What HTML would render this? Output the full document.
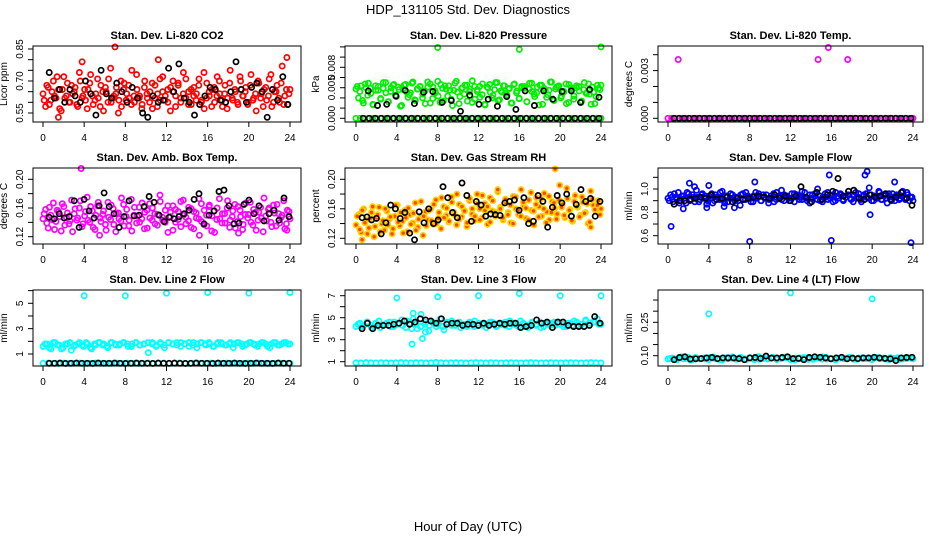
<!DOCTYPE html>
<html><head><meta charset="utf-8"><style>
html,body{margin:0;padding:0;background:#fff;}
svg{display:block;font-family:"Liberation Sans",sans-serif;}
</style></head><body>
<svg id="chart" width="936" height="540" viewBox="0 0 936 540">
<text x="468" y="14" font-size="13" text-anchor="middle">HDP_131105  Std. Dev. Diagnostics</text>
<text x="468" y="531" font-size="13" text-anchor="middle">Hour of Day (UTC)</text>
</svg>
<script>
// ---- data ----
const xTicks = [0,4,8,12,16,20,24];
const co2Main = [0.64,0.58,0.67,0.61,0.70,0.62,0.66,0.56,0.72,0.63,0.60,0.68,0.65,0.59,0.74,0.62,0.66,0.57,0.69,0.63,0.61,0.71,0.58,0.65,0.67,0.60,0.76,0.62,0.64,0.55,0.70,0.66,0.61,0.68,0.59,0.63,0.73,0.62,0.57,0.67,0.64,0.60,0.69,0.62,0.58,0.71,0.65,0.61,0.66,0.56,0.70,0.63,0.68,0.60,0.74,0.62,0.65,0.59,0.67,0.64,0.71,0.61,0.57,0.69,0.63,0.66,0.60,0.72,0.64,0.58,0.68,0.62,0.75,0.61,0.65,0.59,0.70,0.63,0.67,0.60,0.73,0.62,0.56,0.69,0.64,0.66,0.61,0.71,0.58,0.65,0.68,0.60,0.77,0.63,0.59,0.66];
const co2Main2 = [0.61,0.68,0.59,0.65,0.63,0.72,0.57,0.66,0.62,0.69,0.60,0.64,0.67,0.58,0.70,0.63,0.61,0.66,0.73,0.59,0.64,0.62,0.68,0.56,0.65,0.71,0.60,0.63,0.67,0.61,0.58,0.69,0.64,0.62,0.75,0.60,0.66,0.63,0.59,0.70,0.62,0.65,0.57,0.68,0.64,0.61,0.72,0.63,0.60,0.67,0.65,0.58,0.69,0.62,0.64,0.71,0.59,0.66,0.63,0.61,0.68,0.60,0.74,0.62,0.65,0.58,0.67,0.63,0.70,0.61,0.64,0.57,0.69,0.62,0.66,0.60,0.72,0.63,0.65,0.59,0.68,0.61,0.64,0.70,0.62,0.58,0.67,0.63,0.73,0.60,0.65,0.62,0.69,0.59,0.66,0.64];
const co2Black = [0.74,0.62,0.66,0.60,0.66,0.63,0.60,0.70,0.64,0.54,0.75,0.64,0.62,0.69,0.65,0.60,0.67,0.62,0.55,0.53,0.63,0.60,0.61,0.76,0.65,0.78,0.62,0.60,0.54,0.59,0.63,0.67,0.66,0.61,0.60,0.65,0.79,0.66,0.60,0.67,0.69,0.65,0.53,0.66,0.61,0.72,0.59];
const co2OutHours = [1.5,3.8,7.0,11.2,23.7];
const co2OutVals = [0.53,0.79,0.86,0.80,0.81];
// pressure in Pa (1 Pa = 0.001 kPa)
const presMain = [4.6,3.2,5.1,2.4,4.8,5.5,3.9,2.1,4.4,5.0,3.0,4.7,5.6,2.6,4.2,5.2,3.6,4.9,1.9,4.5,5.3,3.3,4.0,5.7,2.8,4.6,5.0,3.8,2.3,4.9,5.4,3.1,4.3,5.8,2.5,4.7,5.1,3.5,4.4,2.0,5.5,4.1,3.4,4.8,5.2,2.7,4.6,5.9,3.0,4.2,5.0,3.7,2.2,4.9,5.3,3.2,4.5,5.6,2.9,4.1,5.1,3.6,4.7,2.4,5.4,4.3,3.1,4.8,5.0,2.6,4.6,5.5,3.8,4.0,2.1,5.2,4.7,3.3,4.4,5.7,2.8,4.9,5.1,3.5,4.2,2.3,5.3,4.6,3.0,4.8,5.0,2.5,4.5,3.9,5.4,2.2,4.1,3.4,4.7,5.2];
const presMain2 = [5.0,4.2,2.8,5.4,3.6,4.7,2.2,5.1,4.4,3.1,5.6,4.0,2.6,4.8,5.3,3.4,4.5,2.0,5.2,4.1,3.7,5.5,2.9,4.6,5.0,3.2,4.3,5.7,2.4,4.9,4.0,3.5,5.3,2.7,4.6,5.1,3.0,4.4,5.8,2.3,4.7,3.8,5.2,4.2,2.5,5.0,4.5,3.3,5.4,2.1,4.8,4.1,3.6,5.6,2.8,4.3,5.1,3.9,4.6,2.4,5.3,4.0,3.1,5.0,4.7,2.6,5.5,4.2,3.4,4.9,5.2,2.2,4.4,3.7,5.7,2.9,4.6,5.0,3.2,4.1,5.4,2.5,4.8,3.5,5.1,4.3,2.7,5.6,4.0,3.8,4.9,2.3,5.2,4.5];
const presZero = [0,0,0,0,0,0,0,0,0,0,0,0,0,0,0,0,0,0,0,0,0,0,0,0,0,0,0,0,0,0,0,0,0,0,0,0,0,0,0,0,0,0,0,0,0,0,0,0,0,0,0,0,0,0,0,0,0,0,0,0];
const presBlack = [4.3,2.0,2.2,3.5,4.4,2.3,4.1,4.2,2.5,2.8,1.1,3.6,2.2,3.0,1.9,3.4,1.4,4.3,2.0,4.3,3.0,4.2,4.3,2.5,4.5,3.3];
const presBlackZero = [0,0,0,0,0,0,0,0,0,0,0,0,0,0,0,0,0,0,0,0,0,0,0,0,0,0,0,0,0,0,0,0,0,0,0,0,0,0,0,0];
const presOutHours = [8,16,24];
const presOutVals = [11.1,10.8,11.2];
// temperature in mK
const tempZero = [0,0,0,0,0,0,0,0,0,0,0,0,0,0,0,0,0,0,0,0,0,0,0,0,0,0,0,0,0,0,0,0,0,0,0,0,0,0,0,0,0,0,0,0,0,0,0,0,0,0,0,0,0,0,0,0,0,0,0,0,0,0,0,0,0,0,0,0,0,0];
const tempBlackZero = [0,0,0,0,0,0,0,0,0,0,0,0,0,0,0,0,0,0,0,0,0,0,0,0,0,0,0,0,0,0,0,0,0,0,0,0,0,0,0,0,0,0,0,0,0,0,0,0];
const tempOutHours = [1.0,14.7,15.7,17.6];
const tempOutVals = [3.7,3.7,4.45,3.7];
const ambMain = [0.145,0.158,0.132,0.150,0.167,0.141,0.155,0.128,0.162,0.147,0.138,0.171,0.152,0.143,0.160,0.134,0.149,0.175,0.140,0.156,0.130,0.163,0.146,0.151,0.137,0.168,0.144,0.159,0.127,0.153,0.142,0.165,0.148,0.135,0.172,0.150,0.139,0.161,0.145,0.131,0.157,0.166,0.143,0.152,0.136,0.178,0.147,0.140,0.163,0.154,0.129,0.158,0.144,0.169,0.150,0.138,0.161,0.133,0.155,0.146,0.173,0.141,0.157,0.135,0.164,0.149,0.126,0.160,0.145,0.152,0.139,0.170,0.143,0.156,0.132,0.162,0.148,0.137,0.167,0.151,0.140,0.158,0.129,0.154,0.146,0.174,0.142,0.160,0.134,0.153,0.165,0.139,0.150,0.131,0.157,0.145];
const ambMain2 = [0.152,0.139,0.161,0.144,0.130,0.157,0.148,0.166,0.136,0.153,0.142,0.127,0.159,0.146,0.170,0.138,0.155,0.143,0.162,0.133,0.150,0.168,0.141,0.156,0.129,0.147,0.164,0.137,0.152,0.145,0.174,0.135,0.158,0.143,0.128,0.161,0.149,0.140,0.167,0.154,0.132,0.146,0.160,0.138,0.151,0.169,0.143,0.157,0.126,0.148,0.163,0.140,0.155,0.134,0.171,0.147,0.142,0.159,0.131,0.153,0.145,0.166,0.137,0.150,0.162,0.128,0.156,0.144,0.173,0.139,0.152,0.160,0.133,0.148,0.165,0.141,0.157,0.130,0.151,0.146,0.168,0.136,0.154,0.143,0.161,0.127,0.149,0.158,0.140,0.164,0.135,0.152,0.147,0.170,0.138,0.155];
const ambBlack = [0.147,0.145,0.152,0.146,0.148,0.170,0.133,0.172,0.156,0.146,0.163,0.181,0.162,0.152,0.133,0.148,0.170,0.149,0.150,0.162,0.176,0.168,0.150,0.141,0.147,0.145,0.148,0.152,0.157,0.172,0.180,0.138,0.150,0.156,0.183,0.185,0.163,0.138,0.139,0.165,0.171,0.152,0.163,0.142,0.152,0.157,0.143,0.174,0.148];
const ambOutHours = [3.7,5.5,15.2,19.0,23.7];
const ambOutVals = [0.215,0.122,0.122,0.125,0.129];
const rhMain = [0.138,0.152,0.128,0.160,0.145,0.134,0.155,0.122,0.148,0.162,0.140,0.131,0.157,0.146,0.126,0.150,0.165,0.137,0.143,0.158,0.129,0.152,0.141,0.168,0.135,0.149,0.124,0.156,0.145,0.160,0.139,0.172,0.147,0.133,0.163,0.151,0.142,0.176,0.155,0.138,0.166,0.149,0.158,0.136,0.171,0.153,0.144,0.180,0.160,0.148,0.167,0.139,0.175,0.157,0.150,0.183,0.162,0.145,0.169,0.155,0.141,0.177,0.160,0.152,0.186,0.164,0.147,0.172,0.158,0.138,0.175,0.163,0.150,0.181,0.156,0.145,0.170,0.161,0.153,0.192,0.166,0.148,0.174,0.159,0.143,0.178,0.162,0.151,0.169,0.155,0.140,0.184,0.165,0.157,0.171,0.160];
const rhMain2 = [0.150,0.132,0.158,0.141,0.126,0.147,0.163,0.136,0.152,0.129,0.144,0.160,0.138,0.149,0.133,0.165,0.142,0.155,0.127,0.148,0.161,0.139,0.154,0.131,0.146,0.170,0.150,0.137,0.158,0.144,0.166,0.140,0.155,0.175,0.148,0.161,0.143,0.169,0.152,0.180,0.146,0.163,0.157,0.141,0.174,0.160,0.150,0.167,0.145,0.178,0.158,0.163,0.142,0.171,0.155,0.186,0.160,0.148,0.173,0.152,0.165,0.140,0.176,0.158,0.150,0.169,0.161,0.145,0.182,0.157,0.166,0.149,0.174,0.160,0.141,0.177,0.155,0.168,0.146,0.172,0.162,0.151,0.188,0.158,0.144,0.170,0.163,0.149,0.176,0.154,0.167,0.142,0.173,0.159,0.165,0.152];
const rhBlack = [0.148,0.149,0.145,0.147,0.126,0.141,0.165,0.160,0.147,0.155,0.127,0.118,0.156,0.141,0.160,0.140,0.145,0.190,0.175,0.155,0.148,0.195,0.178,0.143,0.170,0.165,0.150,0.153,0.152,0.151,0.168,0.170,0.172,0.158,0.175,0.140,0.143,0.178,0.170,0.135,0.162,0.178,0.168,0.180,0.150,0.166,0.186,0.170,0.174,0.150,0.170];
const rhOutHours = [0.6,19.5,23.0];
const rhOutVals = [0.118,0.214,0.135];
const flowMain = [0.92,0.95,0.89,0.93,0.97,0.90,0.94,0.88,0.96,0.91,0.93,0.99,0.89,0.95,0.92,0.87,0.94,0.96,0.90,0.93,0.91,0.98,0.88,0.94,0.92,0.95,0.90,0.93,0.86,0.96,0.91,0.94,0.92,0.89,0.97,0.93,0.90,0.95,0.92,0.88,0.94,0.96,0.91,0.93,0.99,0.90,0.94,0.92,0.96,0.89,0.95,0.93,0.91,0.97,0.92,0.88,0.95,0.94,1.00,0.90,0.93,0.96,0.91,0.94,0.89,0.97,0.92,0.95,0.90,0.93,0.98,0.91,0.94,0.92,0.96,0.89,0.95,0.93,1.01,0.90,0.94,0.92,0.97,0.91,0.95,0.88,0.93,0.96,0.90,0.94,0.92,0.98,0.91,0.95,0.93,0.90];
const flowMain2 = [0.90,0.93,0.96,0.91,0.88,0.94,0.92,0.97,0.90,0.95,0.89,0.93,0.91,0.96,0.94,0.90,0.92,0.88,0.95,0.93,0.97,0.91,0.94,0.89,0.96,0.92,0.93,0.90,0.95,0.91,0.97,0.93,0.89,0.94,0.92,0.96,0.90,0.93,0.95,0.91,0.92,0.89,0.97,0.94,0.91,0.95,0.93,0.90,0.92,0.96,0.94,0.91,0.98,0.93,0.90,0.95,0.92,0.96,0.91,0.94,0.89,0.93,0.97,0.92,0.95,0.90,0.94,0.96,0.91,0.93,0.95,0.92,0.89,0.97,0.93,0.91,0.94,0.96,0.92,0.95,0.90,0.93,0.98,0.91,0.94,0.92,0.96,0.90,0.93,0.95,0.91,0.94,0.92,0.97,0.90,0.93];
const flowBlack = [0.87,0.90,0.90,0.91,0.92,0.93,0.92,0.95,0.91,0.92,0.93,0.89,0.92,0.91,0.92,0.93,0.94,0.93,0.92,0.95,0.92,0.94,0.90,0.94,1.02,0.93,0.89,0.97,0.91,0.95,0.98,1.09,0.94,0.98,0.99,0.92,0.91,0.95,0.93,0.94,0.96,0.91,0.93,0.97,0.92,0.86];
const flowOutHours = [0.3,2.1,2.6,4.0,8.0,8.5,16.0,19.3,19.5,23.8,3.8,5.5,6.5,1.5,22.2,15.8,19.8];
const flowOutVals = [0.68,1.05,1.02,1.03,0.55,1.06,0.56,1.12,1.15,0.54,0.84,0.85,0.84,0.83,1.06,1.12,0.78];
const l2Main = [1.6,1.8,1.4,1.9,1.7,1.5,1.8,1.3,1.7,1.9,1.6,1.8,1.4,1.7,1.9,1.8,1.5,1.9,1.7,1.8,1.9,1.6,1.8,1.9,1.7,1.8,1.1,1.9,1.7,1.8,1.5,1.9,1.8,1.9,1.6,1.8,1.9,1.7,1.5,1.9,1.8,1.9,1.6,1.8,1.9,1.7,1.8,1.5,1.9,1.8,1.7,1.9,1.8,1.6,1.9,1.8,1.5,1.9,1.7,1.8,1.9,1.8];
const l2Main2 = [1.8,1.5,1.9,1.7,1.4,1.8,1.9,1.6,1.8,1.7,1.9,1.5,1.8,1.9,1.7,1.6,1.9,1.8,1.7,1.9,1.8,1.6,1.9,1.7,1.8,1.9,1.8,1.6,1.9,1.7,1.9,1.8,1.7,1.9,1.8,1.6,1.9,1.8,1.9,1.7,1.8,1.6,1.9,1.8,1.7,1.9,1.8,1.9,1.6,1.8,1.9,1.7,1.8,1.9,1.6,1.8,1.9,1.7,1.9,1.8];
const l2Low = [0.27,0.28,0.27,0.26,0.28,0.27,0.27,0.28,0.26,0.27,0.28,0.27,0.27,0.26,0.28,0.27,0.28,0.27,0.26,0.27,0.28,0.27,0.27,0.28,0.26,0.27,0.28,0.27,0.26,0.28,0.27,0.27,0.28,0.26,0.27,0.28,0.27,0.27,0.26,0.28,0.27,0.28,0.27,0.26,0.27,0.28,0.27,0.27];
const l2Black = [0.27,0.27,0.28,0.26,0.27,0.28,0.27,0.27,0.26,0.28,0.27,0.27,0.28,0.27,0.26,0.27,0.28,0.27,0.27,0.26,0.28,0.27,0.27,0.28,0.27,0.26,0.27,0.28,0.27,0.27,0.26,0.28,0.27,0.27,0.28,0.27,0.26,0.27,0.28,0.27,0.27,0.26,0.28,0.27,0.27];
const l2OutHours = [4,8,12,16,20,24];
const l2OutVals = [5.6,5.6,5.8,5.85,5.8,5.85];
const l3Main = [4.2,4.5,4.3,4.6,4.1,4.4,4.7,4.3,4.5,4.2,4.6,4.4,4.8,4.1,4.5,4.9,4.0,5.3,4.4,3.8,4.6,4.2,4.9,3.9,4.5,4.7,4.3,4.6,4.4,4.2,4.5,4.7,4.3,4.4,4.1,4.6,4.5,4.3,4.4,4.6,4.2,4.5,4.3,4.7,4.4,4.1,4.5,4.3,4.6,4.2,4.4,4.5,4.3,4.6,4.4,4.2,4.5,4.7,4.3,4.4,4.8,4.5,4.6,4.9,4.4];
const l3Main2 = [4.4,4.2,4.6,4.3,4.5,4.1,4.4,4.6,4.2,4.5,4.3,4.7,4.0,4.4,4.2,4.6,4.3,4.5,4.4,4.2,4.6,4.3,4.5,4.1,4.4,4.6,4.2,4.5,4.3,4.4,4.6,4.2,4.5,4.3,4.7,4.4,4.2,4.5,4.3,4.6,4.4,4.1,4.5,4.3,4.6,4.4,4.2,4.5,4.3,4.6,4.4,4.7,4.5,4.6,4.4];
const l3Low = [0.9,0.88,0.92,0.9,0.89,0.91,0.9,0.88,0.9,0.92,0.9,0.89,0.91,0.9,0.88,0.9,0.93,0.9,0.89,0.9,0.91,0.9,0.88,0.9,0.92,0.9,0.89,0.91,0.9,0.88,0.9,0.91,0.9,0.89,0.9,0.92,0.9,0.88,0.9,0.91,0.9,0.89,0.9,0.91,0.9,0.88,0.9,0.92,0.9,0.89];
const l3Black = [4.0,4.5,4.0,4.3,4.3,4.3,4.4,4.5,4.7,4.4,4.6,4.9,4.8,4.7,4.5,4.9,4.4,4.5,4.5,4.3,4.4,4.4,4.3,4.5,4.3,4.4,4.5,4.4,4.5,4.5,4.1,4.2,4.3,4.8,4.5,4.6,4.1,4.6,4.6,4.3,4.2,4.2,4.2,4.3,5.1,4.5];
const l3OutHours = [4,8,12,16,20,24,5.5,5.6,6.5,6.8];
const l3OutVals = [6.8,6.9,7.0,7.2,7.0,7.0,2.6,5.4,3.1,3.7];
const l4Main = [0.085,0.09,0.082,0.095,0.088,0.08,0.092,0.086,0.09,0.083,0.094,0.087,0.081,0.091,0.089,0.084,0.093,0.086,0.09,0.082,0.096,0.088,0.085,0.091,0.083,0.089,0.094,0.086,0.081,0.09,0.087,0.092,0.084,0.089,0.095,0.085,0.088,0.082,0.091,0.087,0.093,0.084,0.089,0.086,0.09,0.083,0.092,0.088,0.085,0.091,0.087,0.084,0.089,0.09,0.086];
const l4Main2 = [0.088,0.084,0.091,0.086,0.093,0.082,0.089,0.087,0.085,0.092,0.088,0.083,0.09,0.086,0.094,0.085,0.089,0.082,0.091,0.087,0.084,0.09,0.088,0.093,0.085,0.087,0.091,0.083,0.089,0.086,0.092,0.084,0.088,0.09,0.085,0.093,0.087,0.083,0.089,0.086,0.091,0.088,0.084,0.09,0.087,0.085,0.092,0.086,0.089,0.083,0.088,0.091,0.085,0.087,0.09];
const l4Black = [0.082,0.092,0.095,0.085,0.086,0.087,0.09,0.092,0.087,0.09,0.09,0.09,0.087,0.082,0.09,0.092,0.088,0.098,0.089,0.09,0.092,0.095,0.087,0.088,0.082,0.092,0.095,0.093,0.09,0.086,0.09,0.093,0.086,0.089,0.087,0.09,0.09,0.093,0.09,0.088,0.086,0.078,0.09,0.092,0.093];
const l4OutHours = [4.0,12.0,20.0];
const l4OutVals = [0.288,0.382,0.355];

// ---- layout ----
const NS='http://www.w3.org/2000/svg';
const svg=document.getElementById('chart');
function mk(tag,attrs,parent){const e=document.createElementNS(NS,tag);for(const k in attrs)e.setAttribute(k,attrs[k]);(parent||svg).appendChild(e);return e;}
const cols=[{l:33,r:301,x0:43,x24:290},{l:345,r:612,x0:356,x24:601},{l:658,r:923,x0:668,x24:913}];
const rows=[{t:46,b:122},{t:168,b:244},{t:290,b:366}];
const GOLD='#ffd000';
const panels=[
 {name:'co2',title:'Stan. Dev. Li-820 CO2',ylab:'Licor ppm',c:0,r:0,v1:0.55,y1:113,v2:0.85,y2:49,ticks:[0.55,0.60,0.65,0.70,0.75,0.80,0.85],labels:[[0.55,'0.55'],[0.70,'0.70'],[0.85,'0.85']],
  series:[{v:co2Main,col:'#ff0000',t0:0,t1:24},{v:co2Main2,col:'#ff0000',t0:0.12,t1:23.9},{h:co2OutHours,v:co2OutVals,col:'#ff0000'},{v:co2Black,col:'#000',t0:0.6,t1:23.8}]},
 {name:'pressure',title:'Stan. Dev. Li-820 Pressure',ylab:'kPa',c:1,r:0,v1:0,y1:118.3,v2:8,y2:67.3,ticks:[0,1.6,3.2,4.8,6.4,8,9.6,11.2],labels:[[0,'0.000'],[4.8,'0.005'],[8,'0.008']],
  series:[{v:presZero,col:'#00ee00',t0:0,t1:24},{v:presMain,col:'#00ee00',t0:0,t1:24},{v:presMain2,col:'#00ee00',t0:0.12,t1:23.9},{h:presOutHours,v:presOutVals,col:'#00ee00'},{v:presBlackZero,col:'#000',t0:0.7,t1:23.8},{v:presBlack,col:'#000',t0:1.2,t1:23.8}]},
 {name:'temp',title:'Stan. Dev. Li-820 Temp.',ylab:'degrees C',c:2,r:0,v1:0,y1:118.3,v2:3,y2:70.6,ticks:[0,1,2,3,4],labels:[[0,'0.000'],[3,'0.003']],
  series:[{v:tempZero,col:'#ff00ff',t0:0,t1:24},{h:tempOutHours,v:tempOutVals,col:'#ff00ff'},{v:tempBlackZero,col:'#000',t0:0.6,t1:23.8}]},
 {name:'amb-box',title:'Stan. Dev. Amb. Box Temp.',ylab:'degrees C',c:0,r:1,v1:0.12,y1:236.7,v2:0.20,y2:179.3,ticks:[0.12,0.14,0.16,0.18,0.20],labels:[[0.12,'0.12'],[0.16,'0.16'],[0.20,'0.20']],
  series:[{v:ambMain,col:'#ff00ff',t0:0,t1:24},{v:ambMain2,col:'#ff00ff',t0:0.12,t1:23.9},{h:ambOutHours,v:ambOutVals,col:'#ff00ff'},{v:ambBlack,col:'#000',t0:0.6,t1:23.9}]},
 {name:'gas-rh',title:'Stan. Dev. Gas Stream RH',ylab:'percent',c:1,r:1,v1:0.12,y1:238.3,v2:0.20,y2:179.3,ticks:[0.12,0.14,0.16,0.18,0.20],labels:[[0.12,'0.12'],[0.16,'0.16'],[0.20,'0.20']],
  series:[{v:rhMain,col:GOLD,fill:'#ff4400',t0:0,t1:24},{v:rhMain2,col:GOLD,fill:'#ff4400',t0:0.12,t1:23.9},{h:rhOutHours,v:rhOutVals,col:GOLD,fill:'#ff4400'},{v:rhBlack,col:'#000',t0:0.6,t1:23.9}]},
 {name:'sample-flow',title:'Stan. Dev. Sample Flow',ylab:'ml/min',c:2,r:1,v1:0.6,y1:235.7,v2:1.0,y2:189,ticks:[0.6,0.7,0.8,0.9,1.0,1.1],labels:[[0.6,'0.6'],[0.8,'0.8'],[1.0,'1.0']],
  series:[{v:flowMain,col:'#0000ff',t0:0,t1:24},{v:flowMain2,col:'#0000ff',t0:0.12,t1:23.9},{h:flowOutHours,v:flowOutVals,col:'#0000ff'},{v:flowBlack,col:'#000',t0:0.6,t1:23.9}]},
 {name:'line2-flow',title:'Stan. Dev. Line 2 Flow',ylab:'ml/min',c:0,r:2,v1:1,y1:354,v2:5,y2:303.3,ticks:[1,2,3,4,5,6],labels:[[1,'1'],[3,'3'],[5,'5']],
  series:[{v:l2Main,col:'#00ffff',t0:0,t1:24},{v:l2Main2,col:'#00ffff',t0:0.2,t1:23.8},{v:l2Low,col:'#00ffff',t0:0,t1:24},{h:l2OutHours,v:l2OutVals,col:'#00ffff'},{v:l2Black,col:'#000',t0:0.6,t1:23.9}]},
 {name:'line3-flow',title:'Stan. Dev. Line 3 Flow',ylab:'ml/min',c:1,r:2,v1:1,y1:361.7,v2:7,y2:295.7,ticks:[1,2,3,4,5,6,7],labels:[[1,'1'],[3,'3'],[5,'5'],[7,'7']],
  series:[{v:l3Main,col:'#00ffff',t0:0,t1:24},{v:l3Main2,col:'#00ffff',t0:0.2,t1:23.8},{v:l3Low,col:'#00ffff',t0:0,t1:24},{h:l3OutHours,v:l3OutVals,col:'#00ffff'},{v:l3Black,col:'#000',t0:0.6,t1:23.9}]},
 {name:'line4-flow',title:'Stan. Dev. Line 4 (LT) Flow',ylab:'ml/min',c:2,r:2,v1:0.10,y1:355.7,v2:0.25,y2:322.3,ticks:[0.10,0.15,0.20,0.25,0.30,0.35],labels:[[0.10,'0.10'],[0.25,'0.25']],
  series:[{v:l4Main,col:'#00ffff',t0:0,t1:24},{v:l4Main2,col:'#00ffff',t0:0.2,t1:23.8},{h:l4OutHours,v:l4OutVals,col:'#00ffff'},{v:l4Black,col:'#000',t0:0.6,t1:23.9}]}
];

panels.forEach(p=>{
  const C=cols[p.c],R=rows[p.r];
  const xs=h=>C.x0+(C.x24-C.x0)*h/24;
  const ys=v=>p.y1+(v-p.v1)*(p.y2-p.y1)/(p.v2-p.v1);
  const g=mk('g',{});
  
  
  const t=mk('text',{x:(C.l+C.r)/2,y:R.t-7,'font-size':11,'font-weight':'bold','text-anchor':'middle'},g);
  t.textContent=p.title;
  
  
  const cx=C.l-26,cy=(R.t+R.b)/2;
  const yl=mk('text',{x:cx,y:cy,'font-size':10,'text-anchor':'middle',transform:`rotate(-90 ${cx} ${cy})`},g);
  yl.textContent=p.ylab;
  
  
  const pts=mk('g',{fill:'none','stroke-width':1.7},g);
  
  
  p.series.forEach(s=>{
    s.v.forEach((v,i)=>{
      const h=s.h?s.h[i]:s.t0+(s.t1-s.t0)*i/Math.max(1,s.v.length-1);
      const y=ys(v);
      if(y<R.t-6||y>R.b+6)return;
      const c=mk('circle',{cx:xs(h).toFixed(1),cy:y.toFixed(1),r:2.6,stroke:s.col,fill:s.fill||'none'},pts);
      
      
    });
  });
  const box=mk('rect',{x:C.l,y:R.t,width:C.r-C.l,height:R.b-R.t,fill:'none',stroke:'#000','stroke-width':1},g);
  
  
  xTicks.forEach(h=>{
    mk('line',{x1:xs(h),x2:xs(h),y1:R.b,y2:R.b+5,stroke:'#000'},g);
    const tl=mk('text',{x:xs(h),y:R.b+19,'font-size':10,'text-anchor':'middle'},g);
    tl.textContent=h;
    
    
  });
  p.ticks.forEach(v=>{const y=ys(v);if(y<R.t-1||y>R.b+1)return;mk('line',{x1:C.l-5,x2:C.l,y1:y,y2:y,stroke:'#000'},g);});
  p.labels.forEach(([v,s])=>{
    const y=ys(v),x=C.l-10;
    const tl=mk('text',{x:x,y:y,'font-size':10,'text-anchor':'middle',transform:`rotate(-90 ${x} ${y})`},g);
    tl.textContent=s;
    
    
  });
});
</script>
</body></html>
